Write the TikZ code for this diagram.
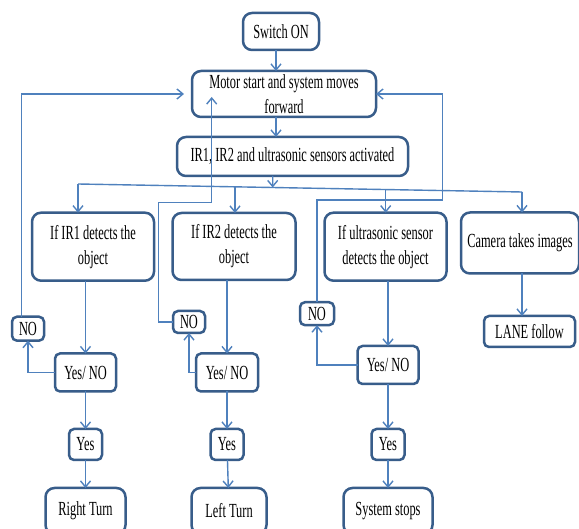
\documentclass[tikz,border=0pt]{standalone}
\usepackage{fontspec}
\setmainfont[FakeStretch=0.62]{Liberation Serif}
\usepackage{tikz}
\usetikzlibrary{positioning}
\usetikzlibrary{arrows.meta}
\definecolor{boxblue}{RGB}{56,93,138}
\definecolor{lineblue}{RGB}{79,129,189}
\tikzset{
	>={Straight Barb[length=3pt,width=5pt]},
	every node/.style={align=center,outer sep=0pt,inner sep=0pt},
	block/.style={rectangle, draw=boxblue, fill=white, line width=1.25pt, rounded corners=4.5pt, font=\fontsize{10pt}{12.5pt}\selectfont},
	tag/.style={block, rounded corners=2.5pt},
	link/.style={->, draw=lineblue, line width=0.7pt},
	wire/.style={draw=lineblue, line width=0.7pt}
}

\begin{document}
\begin{tikzpicture}[x=0.5pt, y=-0.5pt]
	\useasboundingbox[fill=white] (0,0) rectangle (579,529);

	% Main column
	\node (switch) [block, minimum width=38pt, minimum height=18.5pt] at (281,31.5) {Switch ON};
	\node (motor) [block, below = 10.5pt of switch, xshift=1.5pt, minimum width=92pt, minimum height=23pt] {Motor start and system moves\\forward};
	\node (ir) [block, below = 10pt of motor, xshift=4.25pt, minimum width=115.5pt, minimum height=19.5pt] {IR1, IR2 and ultrasonic sensors activated};

	% Sensor row
	\node (ir1) [block, minimum width=61pt, minimum height=34pt] at (93,246.7) {If IR1 detects the\\object};
	\node (ir2) [block, minimum width=61.5pt, minimum height=33.5pt] at (234,246.5) {If IR2 detects the\\object};
	\node (us) [block, minimum width=61pt, minimum height=34pt] at (385.5,246.7) {If ultrasonic sensor\\detects the object};
	\node (cam) [block, minimum width=59pt, minimum height=30.5pt] at (520,243) {Camera takes images};

	% Decisions
	\node (yn1) [tag, below = 36.4pt of ir1, xshift=-3.75pt, minimum width=30.5pt, minimum height=19pt] {Yes/ NO};
	\node (yn2) [tag, below = 36.75pt of ir2, xshift=-3.5pt, minimum width=31pt, minimum height=19pt] {Yes/ NO};
	\node (yn3) [tag, below = 32.65pt of us, xshift=1.25pt, minimum width=30.5pt, minimum height=19pt] {Yes/ NO};
	\node (lane) [tag, below = 21.25pt of cam, xshift=4.75pt, minimum width=45.5pt, minimum height=15.5pt] {LANE follow};

	\node (no1) [tag, minimum width=16pt, minimum height=12pt] at (28,328.7) {NO};
	\node (no2) [tag, minimum width=16pt, minimum height=11pt] at (189,322) {NO};
	\node (no3) [tag, minimum width=17pt, minimum height=11.5pt] at (317,313.7) {NO};

	\node (yes1) [tag, below = 18.75pt of yn1, minimum width=16.5pt, minimum height=15.5pt] {Yes};
	\node (yes2) [tag, below = 18.75pt of yn2, minimum width=16.5pt, minimum height=15.5pt] {Yes};
	\node (yes3) [tag, below = 22.5pt of yn3, minimum width=16.5pt, minimum height=15.5pt] {Yes};

	% Actions
	\node (right) [block, below = 14pt of yes1, minimum width=40pt, minimum height=23pt] {Right Turn};
	\node (left) [block, below = 14pt of yes2, xshift=1pt, minimum width=37.5pt, minimum height=23pt] {Left Turn};
	\node (stops) [block, below = 14pt of yes3, minimum width=44.5pt, minimum height=23pt] {System stops};

	% Bus points
	\coordinate (b1) at (78,184);
	\coordinate (b2) at (235,186.8);
	\coordinate (b3) at (385.7,189.5);
	\coordinate (b4) at (522,192);
	\coordinate (bmid) at (272.7,187.5);
	\coordinate (m2) at (211.7,97);

	\draw[link] ([xshift=-2.5pt]switch.south) -- ([xshift=-4pt]motor.north);
	\draw[link] ([xshift=-4pt]motor.south) -- ([xshift=-8.25pt]ir.north);
	\draw[link] ([xshift=-9.9pt]ir.south) -- (bmid);
	\draw[wire] (b1) -- (b4);
	\draw[link] (b1) -- (ir1.north -| b1);
	\draw[link] (b2) -- (ir2.north -| b2);
	\draw[link] (b3) -- (us.north -| b3);
	\draw[link] (b4) -- (cam.north -| b4);

	\draw[link] (ir1.south -| yn1) -- (yn1);
	\draw[link] (yn1) -- (yes1);
	\draw[link] (yes1) -- (right);
	\draw[link] (ir2.south -| yn2) -- (yn2);
	\draw[link] (yn2) -- (yes2);
	\draw[link] (yes2) -- (left);
	\draw[link] (us.south -| yn3) -- (yn3);
	\draw[link] (yn3) -- (yes3);
	\draw[link] (yes3) -- (stops);
	\draw[link] (cam.south -| b4) -- (lane.north -| b4);

	% Loops back
	\draw[link] (yn1.west) -| (no1.south);
	\draw[link] ([xshift=-3.15pt]no1.north) |- ([xshift=-4pt]motor.west);
	\draw[link] (yn2.west) -| (no2.south);
	\draw[link] (no2.west) -| (158.3,202.3) -| (m2);
	\draw[link] (yn3.west) -| (no3.south);
	\draw[link] (no3.north) |- (442.7,200) |- (motor.east);
\end{tikzpicture}
\end{document}
